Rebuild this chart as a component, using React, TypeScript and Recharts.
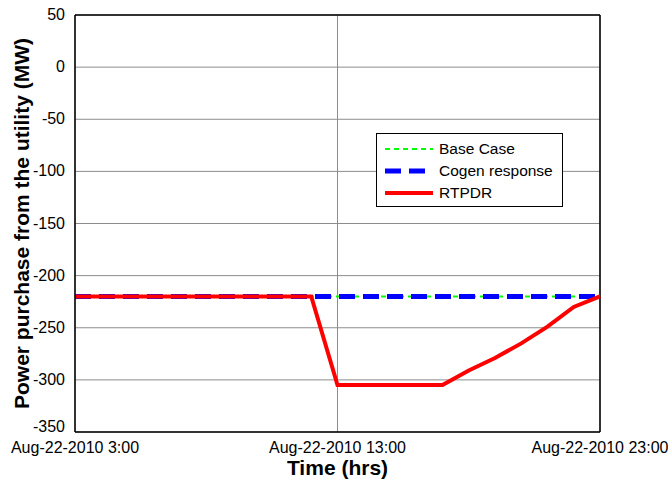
import { LineChart, Line, XAxis, YAxis, CartesianGrid, ReferenceLine } from 'recharts'

// hours of Aug-22-2010
const hours = [3, 4, 5, 6, 7, 8, 9, 10, 11, 12, 13, 14, 15, 16, 17, 18, 19, 20, 21, 22, 23]
const baseCase = [-220, -220, -220, -220, -220, -220, -220, -220, -220, -220, -220, -220, -220, -220, -220, -220, -220, -220, -220, -220, -220]
const cogenResponse = [-220, -220, -220, -220, -220, -220, -220, -220, -220, -220, -220, -220, -220, -220, -220, -220, -220, -220, -220, -220, -220]
const rtpdr = [-220, -220, -220, -220, -220, -220, -220, -220, -220, -220, -305, -305, -305, -305, -305, -291, -279, -265, -249, -230, -220]

const xTicks = [3, 13, 23]
const yTicks = [50, 0, -50, -100, -150, -200, -250, -300, -350]

const data = hours.map((h, i) => ({ h, base: baseCase[i], cogen: cogenResponse[i], rtpdr: rtpdr[i] }))

const font = 'Arial, "Liberation Sans", sans-serif'

// matlab nudges the bottom label up a bit so it clears the date labels
function YTick({ x, y, payload }: any) {
  const lift = payload.value === -350 ? -5 : 0
  return (
    <text x={x} y={y + lift} dy={5} textAnchor="end" fill="#000" fontSize={16} fontFamily={font}>
      {payload.value}
    </text>
  )
}

export default function App() {
  return (
    <div style={{ position: 'absolute', left: 0, top: 0, width: 668, height: 482, background: '#fff', fontFamily: font }}>
      <LineChart width={668} height={482} data={data} margin={{ top: 15, right: 68, left: 0, bottom: 0 }}>
        <CartesianGrid stroke="#8c8c8c" strokeWidth={1} />
        <XAxis
          dataKey="h"
          type="number"
          domain={[3, 23]}
          ticks={xTicks}
          height={50}
          tickFormatter={v => `Aug-22-2010 ${v}:00`}
          stroke="#000"
          strokeWidth={1.5}
          tickLine={false}
          tickMargin={4}
          tick={{ fill: '#000', fontSize: 16, fontFamily: font }}
          label={{ value: 'Time (hrs)', position: 'insideBottom', offset: 7, fill: '#000', fontSize: 21, fontWeight: 'bold', fontFamily: font }}
        />
        <YAxis
          type="number"
          domain={[-350, 50]}
          ticks={yTicks}
          width={75}
          stroke="#000"
          strokeWidth={1.5}
          tickLine={false}
          tickMargin={4}
          tick={<YTick />}
          label={{ value: 'Power purchase from the utility (MW)', angle: -90, position: 'insideLeft', offset: 22, style: { textAnchor: 'middle' }, fill: '#000', fontSize: 21, fontWeight: 'bold', fontFamily: font }}
        />
        <ReferenceLine y={50} stroke="#000" strokeWidth={1.5} />
        <ReferenceLine x={23} stroke="#000" strokeWidth={1.5} />
        <Line dataKey="base" stroke="#00ff00" strokeWidth={2} strokeDasharray="5 4" dot={false} isAnimationActive={false} />
        <Line dataKey="cogen" stroke="#0000ff" strokeWidth={5} strokeDasharray="16 8" dot={false} isAnimationActive={false} />
        <Line dataKey="rtpdr" stroke="#ff0000" strokeWidth={4} dot={false} isAnimationActive={false} />
      </LineChart>
      <div style={{ position: 'absolute', left: 376, top: 133, width: 187, height: 74, border: '1px solid #000', background: '#fff', boxSizing: 'border-box', fontSize: 15.5, color: '#000' }}>
        {[
          { name: 'Base Case', color: '#00ff00', w: 2, dash: '5 4' },
          { name: 'Cogen response', color: '#0000ff', w: 5, dash: '16 8' },
          { name: 'RTPDR', color: '#ff0000', w: 4, dash: undefined },
        ].map((it, i) => (
          <div key={it.name} style={{ position: 'absolute', left: 8, top: 5 + i * 22, height: 20, display: 'flex', alignItems: 'center' }}>
            <svg width={48} height={10}>
              <line x1={0} y1={5} x2={48} y2={5} stroke={it.color} strokeWidth={it.w} strokeDasharray={it.dash} />
            </svg>
            <span style={{ marginLeft: 6 }}>{it.name}</span>
          </div>
        ))}
      </div>
    </div>
  )
}
